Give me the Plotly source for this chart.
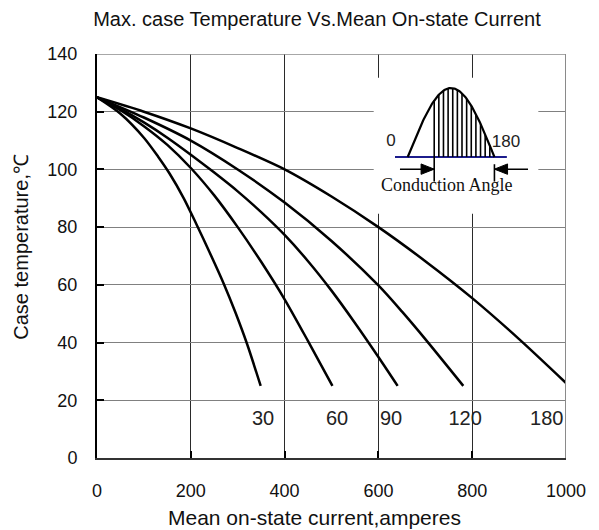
import numpy as np
import plotly.graph_objects as go

# ---------------- data ----------------
x_ticks = [0, 200, 400, 600, 800, 1000]
y_ticks = [0, 20, 40, 60, 80, 100, 120, 140]

angle_labels = ["30", "60", "90", "120", "180"]

curve_30_x = [0, 50, 100, 130, 155, 185, 212, 240, 270, 295, 320, 349]
curve_30_y = [125, 119.3, 111, 104.5, 98.5, 90, 81, 71.3, 60.5, 50.5, 39.5, 25]

curve_60_x = [0, 50, 100, 150, 200, 250, 300, 350, 400, 450, 502]
curve_60_y = [125, 120.5, 115, 108.5, 100.5, 91, 80, 68, 55, 40.5, 25]

curve_90_x = [0, 50, 100, 150, 200, 250, 300, 350, 400, 450, 500, 550, 600, 641]
curve_90_y = [125, 121, 116.3, 111, 105.1, 98.9, 92.4, 85.2, 77.3, 68.2, 58, 46.8, 35, 25]

curve_120_x = [0, 100, 200, 300, 400, 500, 600, 650, 700, 781]
curve_120_y = [125, 118, 110, 100, 88.5, 75.2, 59.8, 50.8, 41.2, 25]

curve_180_x = [0, 100, 200, 300, 400, 500, 600, 700, 800, 900, 1000]
curve_180_y = [125, 120, 114.2, 107.4, 100, 90.6, 80, 68.2, 55.4, 41.2, 26]

label_x = [354, 512, 627, 785, 959]
label_y = [13, 13, 13, 13, 13]

# inset (conduction angle diagram) geometry, in data units
inset_box_x = [590, 941]
inset_box_y = [84.6, 131.8]
wave_start, wave_end = 662.5, 847.4
wave_base, wave_peak = 104.3, 128.2
base_line_x = [635.4, 873.9]
conduction_start_deg = 55
hatch_count = 14
marker_low, marker_high = 95.8, 101.8
arrow_y = 100.1
arrow_left_from = 646
arrow_right_from = 919

series = [
    (curve_30_x, curve_30_y),
    (curve_60_x, curve_60_y),
    (curve_90_x, curve_90_y),
    (curve_120_x, curve_120_y),
    (curve_180_x, curve_180_y),
]

fig = go.Figure()

for xs, ys in series:
    fig.add_trace(go.Scatter(x=xs, y=ys, mode="lines",
                             line=dict(color="black", width=2.5, shape="spline", smoothing=0.8),
                             showlegend=False, hoverinfo="skip"))

# curve labels
fig.add_trace(go.Scatter(x=label_x, y=label_y, mode="text", text=angle_labels,
                         textfont=dict(family="Liberation Sans Narrow, Arial Narrow, Liberation Sans, Arial",
                                       size=20, color="#222"),
                         showlegend=False, hoverinfo="skip"))

# ---- inset ----
span = wave_end - wave_start
theta = np.linspace(0, np.pi, 120)
wx = wave_start + span * theta / np.pi
wy = wave_base + (wave_peak - wave_base) * np.sin(theta)

fig.add_trace(go.Scatter(x=base_line_x, y=[wave_base, wave_base], mode="lines",
                         line=dict(color="#1c1c8c", width=2.2), showlegend=False, hoverinfo="skip"))

hx, hy = [], []
for k, deg in enumerate(np.linspace(conduction_start_deg, 180, hatch_count)):
    xx = wave_start + span * deg / 180
    top = wave_base + (wave_peak - wave_base) * np.sin(np.radians(deg))
    bottom = marker_low if k == 0 else wave_base
    hx += [xx, xx, None]
    hy += [bottom, top, None]
end_x = wave_end
hx += [end_x, end_x, None]
hy += [marker_low, marker_high, None]
fig.add_trace(go.Scatter(x=hx, y=hy, mode="lines", line=dict(color="black", width=1.6),
                         showlegend=False, hoverinfo="skip"))

fig.add_trace(go.Scatter(x=wx, y=wy, mode="lines", line=dict(color="black", width=2.2),
                         showlegend=False, hoverinfo="skip"))

cond_x = wave_start + span * conduction_start_deg / 180
head_len = 28
head_half = 1.8
ax_ = [arrow_left_from, cond_x, None, arrow_right_from, end_x, None]
ay_ = [arrow_y, arrow_y, None, arrow_y, arrow_y, None]
fig.add_trace(go.Scatter(x=ax_, y=ay_, mode="lines", line=dict(color="black", width=1.5),
                         showlegend=False, hoverinfo="skip"))
fig.add_trace(go.Scatter(x=[cond_x, cond_x - head_len, cond_x - head_len, cond_x],
                         y=[arrow_y, arrow_y + head_half, arrow_y - head_half, arrow_y],
                         mode="lines", fill="toself", fillcolor="black",
                         line=dict(color="black", width=1), showlegend=False, hoverinfo="skip"))
fig.add_trace(go.Scatter(x=[end_x, end_x + head_len, end_x + head_len, end_x],
                         y=[arrow_y, arrow_y + head_half, arrow_y - head_half, arrow_y],
                         mode="lines", fill="toself", fillcolor="black",
                         line=dict(color="black", width=1), showlegend=False, hoverinfo="skip"))

fig.add_trace(go.Scatter(x=[627, 872], y=[109.7, 109.4], mode="text", text=["0", "180"],
                         textfont=dict(family="Liberation Sans, Arial", size=17, color="#222"),
                         showlegend=False, hoverinfo="skip"))
fig.add_trace(go.Scatter(x=[745.8], y=[94.1], mode="text", text=["Conduction Angle"],
                         textfont=dict(family="Liberation Serif, Times New Roman, serif", size=18, color="#111"),
                         showlegend=False, hoverinfo="skip"))

fig.add_shape(type="rect", x0=inset_box_x[0], x1=inset_box_x[1], y0=inset_box_y[0], y1=inset_box_y[1],
              xref="x", yref="y", fillcolor="white", line=dict(width=0), layer="between")
fig.add_shape(type="line", x0=1000, x1=1000, y0=0, y1=140, xref="x", yref="y",
              line=dict(color="#8a8a8a", width=2), layer="above")
fig.add_shape(type="line", x0=0, x1=1000, y0=140, y1=140, xref="x", yref="y",
              line=dict(color="#8a8a8a", width=1.5), layer="above")

W, H = 591, 522
tick_font = dict(family="Liberation Sans, Arial", size=18, color="#111")
fig.update_layout(
    width=W, height=H,
    margin=dict(l=89, r=33, t=46, b=72, autoexpand=False),
    paper_bgcolor="white", plot_bgcolor="white",
    title=dict(text="Max. case Temperature Vs.Mean On-state Current",
               x=(317 - 8) / W, xanchor="center", y=1 - (19 - 8) / H, yanchor="middle",
               xref="container", yref="container",
               font=dict(family="Liberation Sans, Arial", size=20, color="#111")),
    xaxis=dict(range=[0, 1000], tickvals=x_ticks, showgrid=True, gridcolor="#2a2a2a", gridwidth=1,
               showline=True, linecolor="#333", linewidth=2, ticks="inside", ticklen=7,
               tickcolor="black", tickwidth=1.5, zeroline=False, tickfont=tick_font,
               ticklabelstandoff=15),
    yaxis=dict(range=[0, 140], tickvals=y_ticks, showgrid=True, gridcolor="#808080", gridwidth=1,
               showline=True, linecolor="black", linewidth=2, ticks="inside", ticklen=7,
               tickcolor="black", tickwidth=1.5, zeroline=False, tickfont=tick_font,
               ticklabelstandoff=14),
    annotations=[
        dict(text="Mean on-state current,amperes", xref="paper", yref="paper",
             x=(314.7 - 97) / 469, y=(458.3 - 518) / 404, xanchor="center", yanchor="middle",
             showarrow=False, font=dict(family="Liberation Sans, Arial", size=21, color="#111")),
        dict(text="Case temperature,℃", xref="paper", yref="paper",
             x=(21 - 97) / 469, y=(458.3 - 247) / 404, xanchor="center", yanchor="middle",
             textangle=-90, showarrow=False, borderpad=0,
             font=dict(family="Liberation Sans, Arial", size=20, color="#111")),
    ],
)

fig.write_html("out.html")
